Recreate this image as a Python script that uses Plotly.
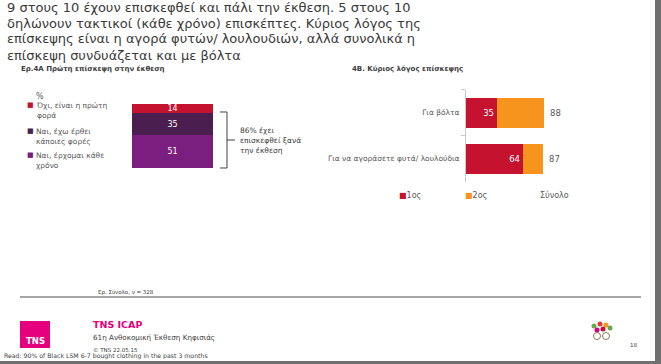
import plotly.graph_objects as go

W, H = 661, 364
def X(px): return px / W
def Y(py): return 1 - py / H

# ---- data ----
title_lines = [
    "9 στους 10 έχουν επισκεφθεί και πάλι την έκθεση. 5 στους 10",
    "δηλώνουν τακτικοί (κάθε χρόνο) επισκέπτες. Κύριος λόγος της",
    "επίσκεψης είναι η αγορά φυτών/ λουλουδιών, αλλά συνολικά η",
    "επίσκεψη συνδυάζεται και με βόλτα",
]
left_title = "Ερ.4Α Πρώτη επίσκεψη στην έκθεση"
left_cats = ["Όχι, είναι η πρώτη<br>φορά", "Ναι, έχω έρθει<br>κάποιες φορές", "Ναι, έρχομαι κάθε<br>χρόνο"]
left_vals = [14, 35, 51]
left_colors = ["#c4122f", "#4a1e4f", "#7a1f7f"]
brace_text = "86% έχει<br>επισκεφθεί ξανά<br>την έκθεση"

right_title = "4B. Κύριος λόγος επίσκεψης"
right_cats = ["Για βόλτα", "Για να αγοράσετε φυτά/ λουλούδια"]
first_vals = [35, 64]
second_vals = [53, 23]
total_vals = [88, 87]
right_series = ["1ος", "2ος"]
right_colors = ["#c4122f", "#f7941d"]

fig = go.Figure()

# left stacked bar (bottom to top: 51, 35, 14)
for name, v, c in reversed(list(zip(left_cats, left_vals, left_colors))):
    fig.add_trace(go.Bar(
        x=["A"], y=[v], name=name, marker=dict(color=c, line=dict(width=0)),
        width=1, text=[str(v)], textposition="inside", insidetextanchor="middle",
        constraintext="none",
        textfont=dict(color="white", size=8, family="DejaVu Sans"),
        xaxis="x", yaxis="y", showlegend=False, hoverinfo="skip"))

# right horizontal stacked bars
for name, vals, c, show in [(right_series[0], first_vals, right_colors[0], True),
                            (right_series[1], second_vals, right_colors[1], False)]:
    fig.add_trace(go.Bar(
        y=right_cats, x=vals, orientation="h", name=name,
        marker=dict(color=c, line=dict(width=0)), width=0.67,
        text=[str(v) for v in vals] if show else None,
        textposition="inside" if show else "none", insidetextanchor="end",
        constraintext="none",
        textfont=dict(color="white", size=8.5, family="DejaVu Sans"),
        xaxis="x2", yaxis="y2", showlegend=False, hoverinfo="skip"))

ann = []
for i, line in enumerate(title_lines):
    ann.append(dict(x=X(5), y=Y(7 + 16 * i), xref="paper", yref="paper", xanchor="left", yanchor="middle",
                    align="left", showarrow=False, text=line,
                    font=dict(size=13, color="#3a3a3a", family="DejaVu Sans")))
ann.append(dict(x=X(19), y=Y(68.5), xref="paper", yref="paper", xanchor="left", yanchor="middle",
                showarrow=False, text="<b>" + left_title + "</b>",
                font=dict(size=7, color="#404040", family="DejaVu Sans")))
ann.append(dict(x=X(350), y=Y(69), xref="paper", yref="paper", xanchor="left", yanchor="middle",
                showarrow=False, text="<b>" + right_title + "</b>",
                font=dict(size=7, color="#404040", family="DejaVu Sans")))
ann.append(dict(x=X(34), y=Y(97), xref="paper", yref="paper", xanchor="left", yanchor="middle",
                showarrow=False, text="%", font=dict(size=8, color="#595959", family="DejaVu Sans")))
leg_y = [110, 136, 160]
for cat, c, yy in zip(left_cats, left_colors, leg_y):
    ann.append(dict(x=X(34), y=Y(yy), xref="paper", yref="paper", xanchor="left", yanchor="middle",
                    align="left", showarrow=False, text=cat,
                    font=dict(size=7.5, color="#595959", family="DejaVu Sans")))
    ann.append(dict(x=X(25), y=Y(yy - 5), xref="paper", yref="paper", xanchor="left", yanchor="middle",
                    showarrow=False, text="■", font=dict(size=7, color=c, family="DejaVu Sans")))
ann.append(dict(x=X(238), y=Y(140), xref="paper", yref="paper", xanchor="left", yanchor="middle",
                align="left", showarrow=False, text=brace_text,
                font=dict(size=7.5, color="#404040", family="DejaVu Sans")))
for cat, t in zip(right_cats, total_vals):
    ann.append(dict(x=t, y=cat, xref="x2", yref="y2", xanchor="left", yanchor="middle",
                    xshift=4, showarrow=False, text=str(t),
                    font=dict(size=8.5, color="#595959", family="DejaVu Sans")))
# right legend
for name, c, xx in zip(right_series, right_colors, [397, 463]):
    ann.append(dict(x=X(xx), y=Y(195), xref="paper", yref="paper", xanchor="left", yanchor="middle",
                    showarrow=False,
                    text='<span style="color:%s">■</span>%s' % (c, name),
                    font=dict(size=8, color="#595959", family="DejaVu Sans")))
ann.append(dict(x=X(538), y=Y(195), xref="paper", yref="paper", xanchor="left", yanchor="middle",
                showarrow=False, text="Σύνολο", font=dict(size=8, color="#595959", family="DejaVu Sans")))
# footer
ann.append(dict(x=X(96), y=Y(292), xref="paper", yref="paper", xanchor="left", yanchor="middle",
                showarrow=False, text="Ερ. Σύνολο, ν = 328", font=dict(size=5.5, color="#404040", family="DejaVu Sans")))
ann.append(dict(x=X(91), y=Y(324), xref="paper", yref="paper", xanchor="left", yanchor="middle",
                showarrow=False, text="<b>TNS ICAP</b>", font=dict(size=9.5, color="#e6007e", family="DejaVu Sans")))
ann.append(dict(x=X(91), y=Y(337), xref="paper", yref="paper", xanchor="left", yanchor="middle",
                showarrow=False, text="61η Ανθοκομική Έκθεση Κηφισιάς", font=dict(size=7.2, color="#404040", family="DejaVu Sans")))
ann.append(dict(x=X(91), y=Y(350), xref="paper", yref="paper", xanchor="left", yanchor="middle",
                showarrow=False, text="© TNS 22.05.15", font=dict(size=5.5, color="#404040", family="DejaVu Sans")))
ann.append(dict(x=X(35), y=Y(341), xref="paper", yref="paper", xanchor="center", yanchor="middle",
                showarrow=False, text="<b>TNS</b>", font=dict(size=8.5, color="white", family="DejaVu Sans")))
ann.append(dict(x=X(2), y=Y(356), xref="paper", yref="paper", xanchor="left", yanchor="middle",
                showarrow=False, text="Read: 90% of Black LSM 6-7 bought clothing in the past 3 months",
                font=dict(size=6.2, color="#404040", family="DejaVu Sans")))
ann.append(dict(x=X(628), y=Y(345), xref="paper", yref="paper", xanchor="left", yanchor="middle",
                showarrow=False, text="18", font=dict(size=5.5, color="#404040", family="DejaVu Sans")))

shapes = []
# brace
shapes.append(dict(type="path", xref="paper", yref="paper",
                   path="M %f,%f L %f,%f L %f,%f L %f,%f M %f,%f L %f,%f" % (
                       X(220), Y(112), X(227), Y(112), X(227), Y(168), X(220), Y(168),
                       X(227), Y(140), X(235), Y(140)),
                   line=dict(color="#404040", width=1)))
# footer line
shapes.append(dict(type="line", xref="paper", yref="paper", x0=X(20), x1=X(641), y0=Y(297), y1=Y(297),
                   line=dict(color="#a6a6a6", width=2)))
# TNS box
shapes.append(dict(type="rect", xref="paper", yref="paper", x0=X(20), x1=X(50), y0=Y(348), y1=Y(321),
                   fillcolor="#e6007e", line=dict(width=0)))
# logo flowers
for cx, cy, col in [(594, 326, "#6aa84f"), (600, 324, "#e03c31"), (606, 325, "#f7941d"),
                    (603, 329, "#c4122f"), (597, 330, "#d5007f"), (610, 328, "#6aa84f")]:
    shapes.append(dict(type="circle", xref="paper", yref="paper", x0=X(cx - 2.5), x1=X(cx + 2.5),
                       y0=Y(cy + 2.5), y1=Y(cy - 2.5), fillcolor=col, line=dict(width=0)))
for cx in [597, 606]:
    shapes.append(dict(type="circle", xref="paper", yref="paper", x0=X(cx - 3.5), x1=X(cx + 3.5),
                       y0=Y(339.5), y1=Y(332.5), fillcolor="white", line=dict(color="#8a7a50", width=1)))
# slide border (right and bottom)
shapes.append(dict(type="rect", xref="paper", yref="paper", x0=X(655), x1=X(661), y0=0, y1=1,
                   fillcolor="#707070", line=dict(width=0)))
shapes.append(dict(type="rect", xref="paper", yref="paper", x0=0, x1=1, y0=0, y1=Y(361),
                   fillcolor="#707070", line=dict(width=0)))

fig.update_layout(
    width=W, height=H, margin=dict(l=0, r=0, t=0, b=0),
    paper_bgcolor="white", plot_bgcolor="rgba(0,0,0,0)",
    barmode="stack", bargap=0, showlegend=False,
    font=dict(family="DejaVu Sans"),
    xaxis=dict(domain=[X(132), X(213)], range=[-0.5, 0.5], visible=False, fixedrange=True),
    yaxis=dict(domain=[Y(168), Y(104)], range=[0, 100], visible=False, fixedrange=True),
    xaxis2=dict(domain=[X(466), X(555)], range=[0, 100], visible=False, anchor="y2"),
    yaxis2=dict(domain=[Y(181.5), Y(89.5)], anchor="x2", type="category",
                autorange="reversed", showline=True, linecolor="#c8c8c8", linewidth=1,
                tickson="boundaries", ticks="outside", ticklen=4, tickcolor="#c8c8c8",
                showgrid=False, zeroline=False, ticklabelstandoff=4,
                tickfont=dict(size=7.5, color="#595959", family="DejaVu Sans")),
    annotations=ann, shapes=shapes,
)

fig.write_html("out.html", config={"displayModeBar": False},
               post_script="document.body.style.margin='0';document.body.style.overflow='hidden';")
